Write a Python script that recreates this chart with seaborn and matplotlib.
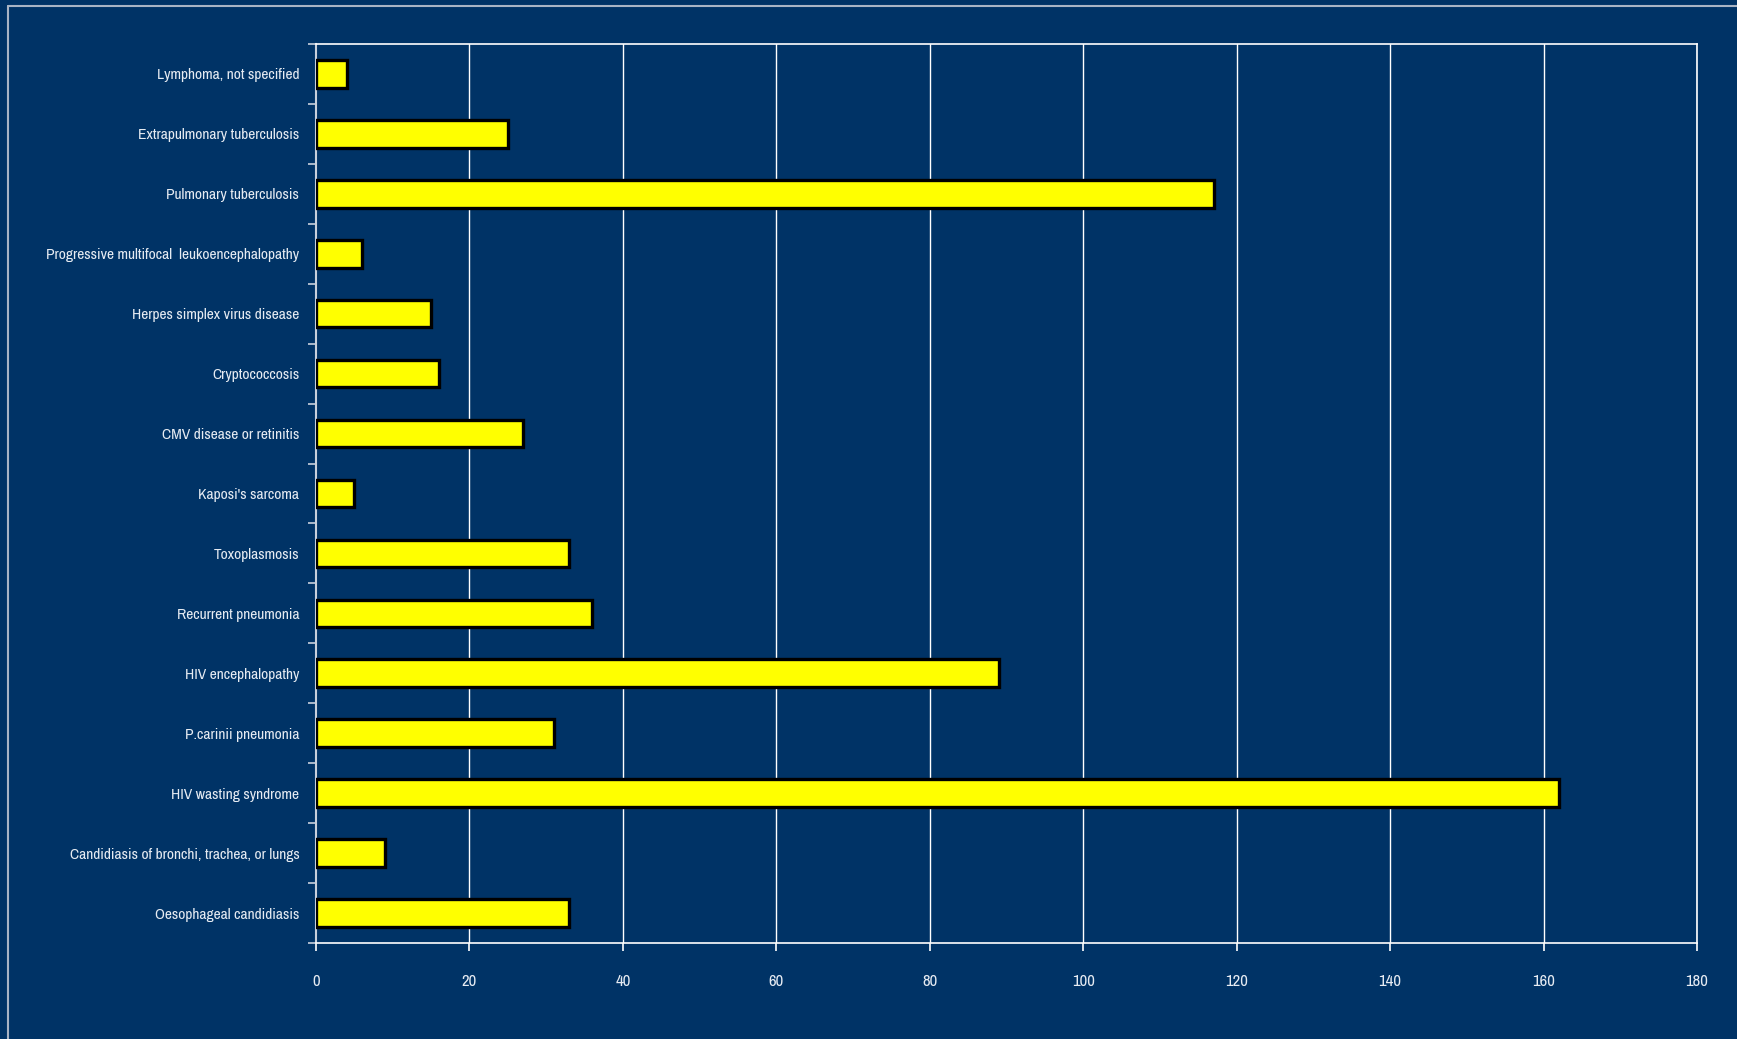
import matplotlib
matplotlib.use("Agg")
import matplotlib.pyplot as plt
from matplotlib.lines import Line2D
from matplotlib import font_manager as fm
import numpy as np
import pandas as pd
import seaborn as sns

# AIDS-defining illnesses, listed top to bottom
conditions = [
    "Lymphoma, not specified",
    "Extrapulmonary tuberculosis",
    "Pulmonary tuberculosis",
    "Progressive multifocal  leukoencephalopathy",
    "Herpes simplex virus disease",
    "Cryptococcosis",
    "CMV disease or retinitis",
    "Kaposi's sarcoma",
    "Toxoplasmosis",
    "Recurrent pneumonia",
    "HIV encephalopathy",
    "P.carinii pneumonia",
    "HIV wasting syndrome",
    "Candidiasis of bronchi, trachea, or lungs",
    "Oesophageal candidiasis",
]
cases = [4, 25, 117, 6, 15, 16, 27, 5, 33, 36, 89, 31, 162, 9, 33]
x_ticks = [0, 20, 40, 60, 80, 100, 120, 140, 160, 180]

BG = "#003366"
TEXT = "#e6ebf2"

sns.set_theme(style="white")

# narrow sans-serif for the labels, first one that is installed
installed = {f.name for f in fm.fontManager.ttflist}
narrow_choices = ["Liberation Sans Narrow", "Arimo Narrow", "Archivo Narrow",
                  "PT Sans Narrow", "Roboto Condensed", "Open Sans Condensed",
                  "IBM Plex Sans Condensed", "Fira Sans Condensed",
                  "Encode Sans Condensed", "Barlow Semi Condensed"]
narrow = next((n for n in narrow_choices if n in installed), "DejaVu Sans")
plt.rcParams["font.family"] = [narrow, "DejaVu Sans"]

df = pd.DataFrame({"condition": conditions, "cases": cases})

fig = plt.figure(figsize=(17.37, 10.39), dpi=100, facecolor=BG)
ax = fig.add_axes([0.1819, 0.0924, 0.9770 - 0.1819, 0.9577 - 0.0924])
ax.set_facecolor(BG)

sns.barplot(data=df, x="cases", y="condition", order=conditions,
            color="#ffff00", edgecolor="black", linewidth=2.4,
            width=0.46, saturation=1, ax=ax, zorder=3)

ax.set_xlim(0, 180)
ax.set_ylim(len(conditions) - 0.5, -0.5)
ax.set_xticks(x_ticks)
ax.set_xticklabels([str(t) for t in x_ticks])
ax.set_xlabel("")
ax.set_ylabel("")

# vertical gridlines
ax.grid(False)
for t in x_ticks[1:]:
    ax.axvline(t, color="white", lw=1.0, zorder=1)

# category separators as ticks on the left axis
ax.set_yticks(np.arange(-0.5, len(conditions) + 0.5, 1), minor=True)
ax.tick_params(axis="y", which="major", length=0, pad=12,
               labelsize=11.2, labelcolor=TEXT)
ax.tick_params(axis="y", which="minor", length=6, width=1.2,
               color="#c8d0dc", direction="out", left=True)
ax.tick_params(axis="x", which="major", length=6, width=1.2,
               color="white", direction="out", pad=16,
               labelsize=12, labelcolor=TEXT, bottom=True)

for side in ["top", "right", "bottom"]:
    ax.spines[side].set_visible(True)
    ax.spines[side].set_color("white")
    ax.spines[side].set_linewidth(1.2)
ax.spines["left"].set_visible(True)
ax.spines["left"].set_color("#c8d0dc")
ax.spines["left"].set_linewidth(1.5)

# outer frame (left and top edges)
W, H = 1737, 1039
fig.add_artist(Line2D([8 / W, 8 / W], [0, 1 - 6 / H], transform=fig.transFigure,
                      color="#a9b4c4", lw=1.5))
fig.add_artist(Line2D([8 / W, 1], [1 - 6 / H, 1 - 6 / H], transform=fig.transFigure,
                      color="#a9b4c4", lw=1.5))

fig.savefig("out.png", dpi=100, facecolor=BG)
